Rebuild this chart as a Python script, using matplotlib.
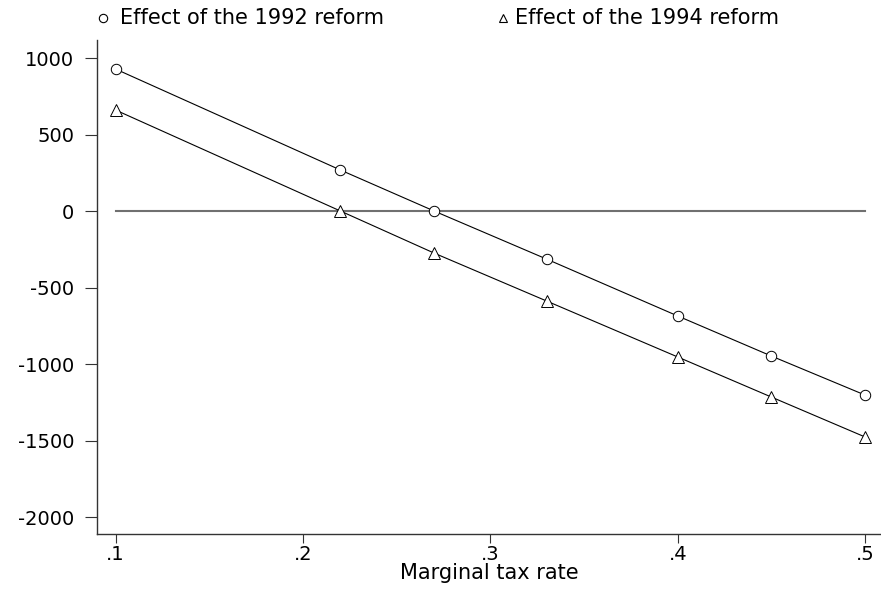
import matplotlib
matplotlib.use("Agg")
import matplotlib.pyplot as plt
from matplotlib.lines import Line2D
from matplotlib.ticker import FuncFormatter

plt.rcParams['font.family'] = ['DejaVu Sans']

tax_rate = [0.10, 0.22, 0.27, 0.33, 0.40, 0.45, 0.50]
effect_1992 = [928, 268, 0, -314, -686, -948, -1203]
effect_1994 = [660, 0, -275, -588, -954, -1216, -1477]
x_ticks = [0.1, 0.2, 0.3, 0.4, 0.5]
y_ticks = [1000, 500, 0, -500, -1000, -1500, -2000]
label_1992 = "Effect of the 1992 reform"
label_1994 = "Effect of the 1994 reform"

fig = plt.figure(figsize=(8.81, 5.92), dpi=100)
ax = fig.add_axes([0.1101, 0.098, 0.8899, 0.8345])

# zero reference line across the plotted range
ax.plot([min(tax_rate), max(tax_rate)], [0, 0], color='#707070', lw=1.5, zorder=1)

ax.plot(tax_rate, effect_1992, color='black', lw=0.8, marker='o', ms=7.5,
        mfc='white', mec='black', mew=0.7, zorder=3)
ax.plot(tax_rate, effect_1994, color='black', lw=0.8, marker='^', ms=8,
        mfc='white', mec='black', mew=0.7, zorder=3)

ax.set_xlim(0.0901, 0.5085)
ax.set_ylim(-2111, 1118)
ax.set_xticks(x_ticks)
ax.set_yticks(y_ticks)
ax.xaxis.set_major_formatter(FuncFormatter(lambda v, p: f"{v:.1f}".lstrip('0')))
ax.yaxis.set_major_formatter(FuncFormatter(lambda v, p: f"{int(v)}"))

for side in ['top', 'right']:
    ax.spines[side].set_visible(False)
for side in ['left', 'bottom']:
    ax.spines[side].set_color('#333333')
    ax.spines[side].set_linewidth(1.0)

ax.tick_params(axis='y', direction='out', length=8.5, width=0.8, pad=8,
               labelsize=14, colors='#333333', labelcolor='black')
ax.tick_params(axis='x', direction='out', length=6.5, width=0.8, pad=1.5,
               labelsize=14, colors='#333333', labelcolor='black')
ax.set_xlabel("Marginal tax rate", fontsize=15, labelpad=-1)

# key along the top edge
fig.add_artist(Line2D([103 / 881], [1 - 18 / 592], marker='o', ms=6, mfc='white',
                      mec='black', mew=0.8, ls='none', transform=fig.transFigure))
fig.text(120 / 881, 1 - 18 / 592, label_1992, fontsize=15, va='center', ha='left')
fig.add_artist(Line2D([503 / 881], [1 - 18 / 592], marker='^', ms=6, mfc='white',
                      mec='black', mew=0.8, ls='none', transform=fig.transFigure))
fig.text(515 / 881, 1 - 18 / 592, label_1994, fontsize=15, va='center', ha='left')

fig.savefig("out.png", dpi=100)
